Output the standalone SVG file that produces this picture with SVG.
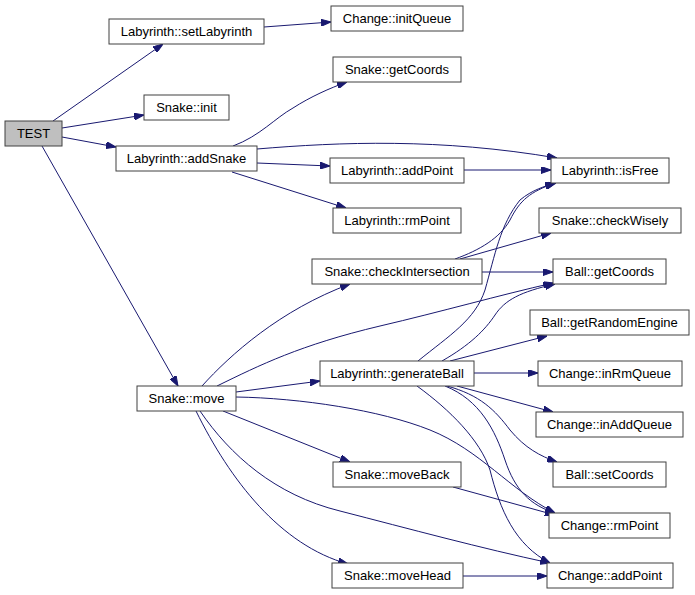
<svg xmlns="http://www.w3.org/2000/svg" width="695" height="595" viewBox="0 0 695 595">
<style>
.n rect{fill:#fff;stroke:#404040;stroke-width:1}
.n text{font-family:"Liberation Sans",Arial,sans-serif;font-size:13px;text-anchor:middle;fill:#000}
#edges path{fill:none;stroke:#191970;stroke-width:1;marker-end:url(#a)}
</style>
<defs>
<marker id="a" viewBox="0 0 10 7" refX="10" refY="3.5" markerWidth="10" markerHeight="7" markerUnits="userSpaceOnUse" orient="auto">
<path d="M0,0 L10,3.5 L0,7 z" fill="#191970" stroke="#191970"/>
</marker>
</defs>
<rect width="695" height="595" fill="#fff"/>
<g id="edges">
<path d="M53,121 L163,44"/>
<path d="M62,128 L144,115"/>
<path d="M62,137 L116,147"/>
<path d="M42,146 L178,386"/>
<path d="M264,27 L331,22"/>
<path d="M233,146 C260,136 275,118 293,108 C310,97 330,88 347,82"/>
<path d="M257,149 C340,142 440,138 557,158"/>
<path d="M257,163 L330,166"/>
<path d="M232,172 L346,208"/>
<path d="M464,170 L551,170"/>
<path d="M455,259 C480,250 500,238 510,220 C520,200 530,192 555,183"/>
<path d="M460,259 L551,233"/>
<path d="M482,272 L553,272"/>
<path d="M418,361 C450,335 475,320 485,290 C495,255 500,225 520,200 C532,190 545,186 556,183"/>
<path d="M442,361 C470,345 485,330 495,315 C505,300 520,292 555,284"/>
<path d="M450,361 L547,336"/>
<path d="M474,373 L538,373"/>
<path d="M457,386 L553,412"/>
<path d="M447,386 C480,395 495,410 510,430 C525,448 540,456 557,462"/>
<path d="M445,386 C480,400 495,430 505,460 C515,490 530,505 555,513"/>
<path d="M417,386 C450,410 480,440 490,470 C500,510 515,545 550,563"/>
<path d="M202,386 C230,355 280,310 350,284"/>
<path d="M217,386 C260,365 300,345 380,326 C440,312 500,295 553,283"/>
<path d="M236,392 L320,381"/>
<path d="M223,411 L350,462"/>
<path d="M236,397 C300,398 380,410 430,430 C480,450 510,490 555,513"/>
<path d="M200,411 C230,455 275,495 340,511 C410,529 480,548 550,563"/>
<path d="M196,411 C230,480 280,545 348,564"/>
<path d="M453,487 L555,515"/>
<path d="M463,576 L547,576"/>
</g>
<g id="TEST" class="n"><rect x="5" y="121" width="57" height="25" style="fill:#bfbfbf"/><text x="33.5" y="138">TEST</text></g>
<g id="setLabyrinth" class="n"><rect x="109" y="19" width="155" height="25"/><text x="186.5" y="36">Labyrinth::setLabyrinth</text></g>
<g id="snakeInit" class="n"><rect x="144" y="95" width="85" height="25"/><text x="186.5" y="112">Snake::init</text></g>
<g id="addSnake" class="n"><rect x="116" y="146" width="141" height="25"/><text x="186.5" y="163">Labyrinth::addSnake</text></g>
<g id="snakeMove" class="n"><rect x="137" y="386" width="99" height="25"/><text x="186.5" y="403">Snake::move</text></g>
<g id="initQueue" class="n"><rect x="331" y="6" width="132" height="25"/><text x="397" y="23">Change::initQueue</text></g>
<g id="snakeGetCoords" class="n"><rect x="333" y="57" width="128" height="25"/><text x="397" y="74">Snake::getCoords</text></g>
<g id="labAddPoint" class="n"><rect x="330" y="158" width="134" height="25"/><text x="397" y="175">Labyrinth::addPoint</text></g>
<g id="labRmPoint" class="n"><rect x="333" y="208" width="128" height="25"/><text x="397" y="225">Labyrinth::rmPoint</text></g>
<g id="checkIntersection" class="n"><rect x="312" y="259" width="170" height="25"/><text x="397" y="276">Snake::checkIntersection</text></g>
<g id="generateBall" class="n"><rect x="320" y="361" width="154" height="25"/><text x="397" y="378">Labyrinth::generateBall</text></g>
<g id="moveBack" class="n"><rect x="333" y="462" width="128" height="25"/><text x="397" y="479">Snake::moveBack</text></g>
<g id="moveHead" class="n"><rect x="332" y="563" width="131" height="25"/><text x="397.5" y="580">Snake::moveHead</text></g>
<g id="isFree" class="n"><rect x="551" y="158" width="118" height="25"/><text x="610" y="175">Labyrinth::isFree</text></g>
<g id="checkWisely" class="n"><rect x="539" y="208" width="142" height="25"/><text x="610" y="225">Snake::checkWisely</text></g>
<g id="ballGetCoords" class="n"><rect x="553" y="259" width="113" height="25"/><text x="609.5" y="276">Ball::getCoords</text></g>
<g id="getRandomEngine" class="n"><rect x="530" y="310" width="159" height="25"/><text x="609.5" y="327">Ball::getRandomEngine</text></g>
<g id="inRmQueue" class="n"><rect x="538" y="361" width="144" height="25"/><text x="610" y="378">Change::inRmQueue</text></g>
<g id="inAddQueue" class="n"><rect x="536" y="412" width="147" height="25"/><text x="609.5" y="429">Change::inAddQueue</text></g>
<g id="setCoords" class="n"><rect x="553" y="462" width="113" height="25"/><text x="609.5" y="479">Ball::setCoords</text></g>
<g id="changeRmPoint" class="n"><rect x="549" y="513" width="121" height="25"/><text x="609.5" y="530">Change::rmPoint</text></g>
<g id="changeAddPoint" class="n"><rect x="547" y="563" width="126" height="25"/><text x="610" y="580">Change::addPoint</text></g>
</svg>
